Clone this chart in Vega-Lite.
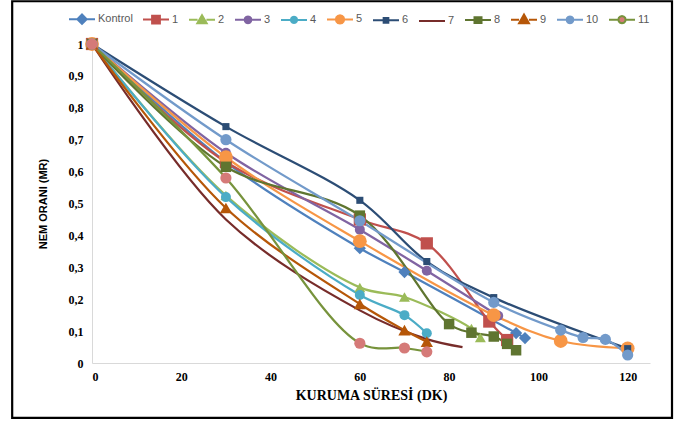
{
  "$schema": "https://vega.github.io/schema/vega-lite/v6.json",
  "width": 558,
  "height": 319,
  "autosize": {"type": "none"},
  "padding": {"left": 92, "top": 44, "right": 34, "bottom": 61},
  "background": "white",
  "config": {
    "view": {"stroke": null},
    "axis": {"grid": false, "ticks": false, "labelOverlap": false, "domainColor": "#D9D9D9", "domainWidth": 1, "labelFont": "Liberation Serif", "labelFontWeight": "bold", "labelFontSize": 12, "labelColor": "#000000"},
    "axisX": {"labelPadding": 8, "titleFont": "Liberation Serif", "titleFontSize": 14, "titleFontWeight": "bold", "titlePadding": 6, "titleColor": "#000000"},
    "axisY": {"labelPadding": 9, "titleFont": "Liberation Sans", "titleFontSize": 11, "titleFontWeight": "bold", "titlePadding": 20, "titleColor": "#000000"},
    "legend": {
      "orient": "none",
      "legendX": -24,
      "legendY": -39,
      "direction": "horizontal",
      "columns": 12,
      "title": null,
      "symbolSize": 676,
      "symbolStrokeWidth": 2,
      "symbolOpacity": 1,
      "labelFont": "Liberation Sans",
      "labelFontSize": 11,
      "labelColor": "#595959",
      "labelOffset": 2,
      "columnPadding": 6
    }
  },
  "data": {
    "values": [
      {"s": "Kontrol", "x": 0, "y": 1}, {"s": "Kontrol", "x": 30, "y": 0.63}, {"s": "Kontrol", "x": 60, "y": 0.36}, {"s": "Kontrol", "x": 70, "y": 0.285}, {"s": "Kontrol", "x": 95, "y": 0.094}, {"s": "Kontrol", "x": 97, "y": 0.078},
      {"s": "1", "x": 0, "y": 1}, {"s": "1", "x": 30, "y": 0.63}, {"s": "1", "x": 60, "y": 0.45}, {"s": "1", "x": 75, "y": 0.375}, {"s": "1", "x": 89, "y": 0.13}, {"s": "1", "x": 93, "y": 0.072},
      {"s": "2", "x": 0, "y": 1}, {"s": "2", "x": 30, "y": 0.525}, {"s": "2", "x": 60, "y": 0.237}, {"s": "2", "x": 70, "y": 0.207}, {"s": "2", "x": 85, "y": 0.108}, {"s": "2", "x": 87, "y": 0.08},
      {"s": "3", "x": 0, "y": 1}, {"s": "3", "x": 30, "y": 0.659}, {"s": "3", "x": 60, "y": 0.418}, {"s": "3", "x": 75, "y": 0.289}, {"s": "3", "x": 91, "y": 0.148},
      {"s": "4", "x": 0, "y": 1}, {"s": "4", "x": 30, "y": 0.52}, {"s": "4", "x": 60, "y": 0.213}, {"s": "4", "x": 70, "y": 0.15}, {"s": "4", "x": 75, "y": 0.093},
      {"s": "5", "x": 0, "y": 1}, {"s": "5", "x": 30, "y": 0.645}, {"s": "5", "x": 60, "y": 0.382}, {"s": "5", "x": 90, "y": 0.15}, {"s": "5", "x": 105, "y": 0.069}, {"s": "5", "x": 120, "y": 0.046},
      {"s": "6", "x": 0, "y": 1}, {"s": "6", "x": 30, "y": 0.741}, {"s": "6", "x": 60, "y": 0.51}, {"s": "6", "x": 75, "y": 0.318}, {"s": "6", "x": 90, "y": 0.205}, {"s": "6", "x": 120, "y": 0.045},
      {"s": "7", "x": 0, "y": 1}, {"s": "7", "x": 30, "y": 0.45}, {"s": "7", "x": 60, "y": 0.165}, {"s": "7", "x": 75, "y": 0.075}, {"s": "7", "x": 83, "y": 0.05},
      {"s": "8", "x": 0, "y": 1}, {"s": "8", "x": 30, "y": 0.615}, {"s": "8", "x": 60, "y": 0.462}, {"s": "8", "x": 80, "y": 0.122}, {"s": "8", "x": 85, "y": 0.095}, {"s": "8", "x": 90, "y": 0.083}, {"s": "8", "x": 93, "y": 0.06}, {"s": "8", "x": 95, "y": 0.04},
      {"s": "9", "x": 0, "y": 1}, {"s": "9", "x": 30, "y": 0.486}, {"s": "9", "x": 60, "y": 0.185}, {"s": "9", "x": 70, "y": 0.103}, {"s": "9", "x": 75, "y": 0.067},
      {"s": "10", "x": 0, "y": 1}, {"s": "10", "x": 30, "y": 0.7}, {"s": "10", "x": 60, "y": 0.446}, {"s": "10", "x": 90, "y": 0.19}, {"s": "10", "x": 105, "y": 0.103}, {"s": "10", "x": 110, "y": 0.08}, {"s": "10", "x": 115, "y": 0.074}, {"s": "10", "x": 120, "y": 0.025},
      {"s": "11", "x": 0, "y": 1}, {"s": "11", "x": 30, "y": 0.58}, {"s": "11", "x": 60, "y": 0.062}, {"s": "11", "x": 70, "y": 0.047}, {"s": "11", "x": 75, "y": 0.035}
    ]
  },
  "layer": [
    {
      "data": {"values": [{}]},
      "mark": {"type": "rect", "fill": null, "stroke": "#000000", "strokeWidth": 2.2},
      "encoding": {
        "x": {"datum": -17.88, "type": "quantitative", "scale": {"domain": [0, 125], "nice": false}, "title": "KURUMA SÜRESİ (DK)", "axis": {"values": [0, 20, 40, 60, 80, 100, 120]}},
        "x2": {"datum": 129.93},
        "y": {"datum": 1.134, "type": "quantitative", "scale": {"domain": [0, 1], "nice": false}, "title": "NEM ORANI (MR)", "axis": {"values": [0, 0.1, 0.2, 0.3, 0.4, 0.5, 0.6, 0.7, 0.8, 0.9, 1], "labelExpr": "replace(format(datum.value, '.1~f'), '.', ',')"}},
        "y2": {"datum": -0.172}
      }
    },
    {
      "mark": {"type": "line", "interpolate": "catmull-rom", "strokeWidth": 2.25},
      "encoding": {
        "x": {"field": "x", "type": "quantitative", "scale": {"domain": [0, 125], "nice": false}, "title": "KURUMA SÜRESİ (DK)", "axis": {"values": [0, 20, 40, 60, 80, 100, 120]}},
        "y": {"field": "y", "type": "quantitative", "scale": {"domain": [0, 1], "nice": false}, "title": "NEM ORANI (MR)", "axis": {"values": [0, 0.1, 0.2, 0.3, 0.4, 0.5, 0.6, 0.7, 0.8, 0.9, 1], "labelExpr": "replace(format(datum.value, '.1~f'), '.', ',')"}},
        "stroke": {
          "field": "s", "type": "nominal",
          "scale": {
            "domain": ["Kontrol", "1", "2", "3", "4", "5", "6", "7", "8", "9", "10", "11"],
            "range": ["#4F81BD", "#C0504D", "#9BBB59", "#8064A2", "#4BACC6", "#F79646", "#2C4D75", "#772C2A", "#5F7530", "#B65708", "#729ACA", "#77933C"]
          }
        }
      }
    },
    {
      "transform": [{"filter": "false"}],
      "mark": {"type": "point", "filled": true},
      "encoding": {
        "x": {"field": "x", "type": "quantitative", "scale": {"domain": [0, 125], "nice": false}, "title": "KURUMA SÜRESİ (DK)", "axis": {"values": [0, 20, 40, 60, 80, 100, 120]}},
        "y": {"field": "y", "type": "quantitative", "scale": {"domain": [0, 1], "nice": false}, "title": "NEM ORANI (MR)", "axis": {"values": [0, 0.1, 0.2, 0.3, 0.4, 0.5, 0.6, 0.7, 0.8, 0.9, 1], "labelExpr": "replace(format(datum.value, '.1~f'), '.', ',')"}},
        "shape": {
          "field": "s", "type": "nominal",
          "scale": {
            "type": "ordinal",
            "domain": ["Kontrol", "1", "2", "3", "4", "5", "6", "7", "8", "9", "10", "11"],
            "range": [
              "M-1,0H-0.36M0.36,0H1M0,-0.36L0.36,0L0,0.36L-0.36,0Z",
              "M-1,0H-0.3M0.3,0H1M-0.3,-0.3H0.3V0.3H-0.3Z",
              "M-1,0H-0.34M0.34,0H1M0,-0.36L0.36,0.26H-0.36Z",
              "M-1,0H-0.26M0.26,0H1M0.26,0L0.225,0.13L0.13,0.225L0,0.26L-0.13,0.225L-0.225,0.13L-0.26,0L-0.225,-0.13L-0.13,-0.225L0,-0.26L0.13,-0.225L0.225,-0.13Z",
              "M-1,0H-0.24M0.24,0H1M0.24,0L0.208,0.12L0.12,0.208L0,0.24L-0.12,0.208L-0.208,0.12L-0.24,0L-0.208,-0.12L-0.12,-0.208L0,-0.24L0.12,-0.208L0.208,-0.12Z",
              "M-1,0H-0.32M0.32,0H1M0.32,0L0.277,0.16L0.16,0.277L0,0.32L-0.16,0.277L-0.277,0.16L-0.32,0L-0.277,-0.16L-0.16,-0.277L0,-0.32L0.16,-0.277L0.277,-0.16Z",
              "M-1,0H-0.18M0.18,0H1M-0.18,-0.18H0.18V0.18H-0.18Z",
              "M-1,0H1",
              "M-1,0H-0.27M0.27,0H1M-0.27,-0.22H0.27V0.22H-0.27Z",
              "M-1,0H-0.38M0.38,0H1M0,-0.4L0.38,0.26H-0.38Z",
              "M-1,0H-0.26M0.26,0H1M0.26,0L0.225,0.13L0.13,0.225L0,0.26L-0.13,0.225L-0.225,0.13L-0.26,0L-0.225,-0.13L-0.13,-0.225L0,-0.26L0.13,-0.225L0.225,-0.13Z",
              "M-1,0H-0.28M0.28,0H1M0.28,0L0.242,0.14L0.14,0.242L0,0.28L-0.14,0.242L-0.242,0.14L-0.28,0L-0.242,-0.14L-0.14,-0.242L0,-0.28L0.14,-0.242L0.242,-0.14Z"
            ]
          }
        },
        "fill": {
          "field": "s", "type": "nominal",
          "scale": {
            "domain": ["Kontrol", "1", "2", "3", "4", "5", "6", "7", "8", "9", "10", "11"],
            "range": ["#4F81BD", "#C0504D", "#9BBB59", "#8064A2", "#4BACC6", "#F79646", "#2C4D75", "#772C2A", "#5F7530", "#B65708", "#729ACA", "#D57A78"]
          }
        }
      }
    },
    {
      "transform": [{"filter": "datum.s === 'Kontrol'"}],
      "mark": {"type": "point", "filled": true, "opacity": 1, "strokeWidth": 0, "shape": "diamond", "size": 150},
      "encoding": {"x": {"field": "x", "type": "quantitative", "scale": {"domain": [0, 125], "nice": false}, "title": "KURUMA SÜRESİ (DK)", "axis": {"values": [0, 20, 40, 60, 80, 100, 120]}}, "y": {"field": "y", "type": "quantitative", "scale": {"domain": [0, 1], "nice": false}, "title": "NEM ORANI (MR)", "axis": {"values": [0, 0.1, 0.2, 0.3, 0.4, 0.5, 0.6, 0.7, 0.8, 0.9, 1], "labelExpr": "replace(format(datum.value, '.1~f'), '.', ',')"}}, "fill": {"field": "s", "type": "nominal", "scale": {"domain": ["Kontrol", "1", "2", "3", "4", "5", "6", "7", "8", "9", "10", "11"], "range": ["#4F81BD", "#C0504D", "#9BBB59", "#8064A2", "#4BACC6", "#F79646", "#2C4D75", "#772C2A", "#5F7530", "#B65708", "#729ACA", "#D57A78"]}}}
    },
    {
      "transform": [{"filter": "datum.s === '1'"}],
      "mark": {"type": "point", "filled": true, "opacity": 1, "strokeWidth": 0, "shape": "square", "size": 150},
      "encoding": {"x": {"field": "x", "type": "quantitative", "scale": {"domain": [0, 125], "nice": false}, "title": "KURUMA SÜRESİ (DK)", "axis": {"values": [0, 20, 40, 60, 80, 100, 120]}}, "y": {"field": "y", "type": "quantitative", "scale": {"domain": [0, 1], "nice": false}, "title": "NEM ORANI (MR)", "axis": {"values": [0, 0.1, 0.2, 0.3, 0.4, 0.5, 0.6, 0.7, 0.8, 0.9, 1], "labelExpr": "replace(format(datum.value, '.1~f'), '.', ',')"}}, "fill": {"field": "s", "type": "nominal", "scale": {"domain": ["Kontrol", "1", "2", "3", "4", "5", "6", "7", "8", "9", "10", "11"], "range": ["#4F81BD", "#C0504D", "#9BBB59", "#8064A2", "#4BACC6", "#F79646", "#2C4D75", "#772C2A", "#5F7530", "#B65708", "#729ACA", "#D57A78"]}}}
    },
    {
      "transform": [{"filter": "datum.s === '2'"}],
      "mark": {"type": "point", "filled": true, "opacity": 1, "strokeWidth": 0, "shape": "triangle-up", "size": 120},
      "encoding": {"x": {"field": "x", "type": "quantitative", "scale": {"domain": [0, 125], "nice": false}, "title": "KURUMA SÜRESİ (DK)", "axis": {"values": [0, 20, 40, 60, 80, 100, 120]}}, "y": {"field": "y", "type": "quantitative", "scale": {"domain": [0, 1], "nice": false}, "title": "NEM ORANI (MR)", "axis": {"values": [0, 0.1, 0.2, 0.3, 0.4, 0.5, 0.6, 0.7, 0.8, 0.9, 1], "labelExpr": "replace(format(datum.value, '.1~f'), '.', ',')"}}, "fill": {"field": "s", "type": "nominal", "scale": {"domain": ["Kontrol", "1", "2", "3", "4", "5", "6", "7", "8", "9", "10", "11"], "range": ["#4F81BD", "#C0504D", "#9BBB59", "#8064A2", "#4BACC6", "#F79646", "#2C4D75", "#772C2A", "#5F7530", "#B65708", "#729ACA", "#D57A78"]}}}
    },
    {
      "transform": [{"filter": "datum.s === '3' || datum.s === '4'"}],
      "mark": {"type": "point", "filled": true, "opacity": 1, "strokeWidth": 0, "shape": "circle", "size": 100},
      "encoding": {"x": {"field": "x", "type": "quantitative", "scale": {"domain": [0, 125], "nice": false}, "title": "KURUMA SÜRESİ (DK)", "axis": {"values": [0, 20, 40, 60, 80, 100, 120]}}, "y": {"field": "y", "type": "quantitative", "scale": {"domain": [0, 1], "nice": false}, "title": "NEM ORANI (MR)", "axis": {"values": [0, 0.1, 0.2, 0.3, 0.4, 0.5, 0.6, 0.7, 0.8, 0.9, 1], "labelExpr": "replace(format(datum.value, '.1~f'), '.', ',')"}}, "fill": {"field": "s", "type": "nominal", "scale": {"domain": ["Kontrol", "1", "2", "3", "4", "5", "6", "7", "8", "9", "10", "11"], "range": ["#4F81BD", "#C0504D", "#9BBB59", "#8064A2", "#4BACC6", "#F79646", "#2C4D75", "#772C2A", "#5F7530", "#B65708", "#729ACA", "#D57A78"]}}}
    },
    {
      "transform": [{"filter": "datum.s === '5'"}],
      "mark": {"type": "point", "filled": true, "opacity": 1, "strokeWidth": 0, "shape": "circle", "size": 190},
      "encoding": {"x": {"field": "x", "type": "quantitative", "scale": {"domain": [0, 125], "nice": false}, "title": "KURUMA SÜRESİ (DK)", "axis": {"values": [0, 20, 40, 60, 80, 100, 120]}}, "y": {"field": "y", "type": "quantitative", "scale": {"domain": [0, 1], "nice": false}, "title": "NEM ORANI (MR)", "axis": {"values": [0, 0.1, 0.2, 0.3, 0.4, 0.5, 0.6, 0.7, 0.8, 0.9, 1], "labelExpr": "replace(format(datum.value, '.1~f'), '.', ',')"}}, "fill": {"field": "s", "type": "nominal", "scale": {"domain": ["Kontrol", "1", "2", "3", "4", "5", "6", "7", "8", "9", "10", "11"], "range": ["#4F81BD", "#C0504D", "#9BBB59", "#8064A2", "#4BACC6", "#F79646", "#2C4D75", "#772C2A", "#5F7530", "#B65708", "#729ACA", "#D57A78"]}}}
    },
    {
      "transform": [{"filter": "datum.s === '6'"}],
      "mark": {"type": "point", "filled": true, "opacity": 1, "strokeWidth": 0, "shape": "square", "size": 50},
      "encoding": {"x": {"field": "x", "type": "quantitative", "scale": {"domain": [0, 125], "nice": false}, "title": "KURUMA SÜRESİ (DK)", "axis": {"values": [0, 20, 40, 60, 80, 100, 120]}}, "y": {"field": "y", "type": "quantitative", "scale": {"domain": [0, 1], "nice": false}, "title": "NEM ORANI (MR)", "axis": {"values": [0, 0.1, 0.2, 0.3, 0.4, 0.5, 0.6, 0.7, 0.8, 0.9, 1], "labelExpr": "replace(format(datum.value, '.1~f'), '.', ',')"}}, "fill": {"field": "s", "type": "nominal", "scale": {"domain": ["Kontrol", "1", "2", "3", "4", "5", "6", "7", "8", "9", "10", "11"], "range": ["#4F81BD", "#C0504D", "#9BBB59", "#8064A2", "#4BACC6", "#F79646", "#2C4D75", "#772C2A", "#5F7530", "#B65708", "#729ACA", "#D57A78"]}}}
    },
    {
      "transform": [{"filter": "datum.s === '8'"}],
      "mark": {"type": "point", "filled": true, "opacity": 1, "strokeWidth": 0, "shape": "square", "size": 110},
      "encoding": {"x": {"field": "x", "type": "quantitative", "scale": {"domain": [0, 125], "nice": false}, "title": "KURUMA SÜRESİ (DK)", "axis": {"values": [0, 20, 40, 60, 80, 100, 120]}}, "y": {"field": "y", "type": "quantitative", "scale": {"domain": [0, 1], "nice": false}, "title": "NEM ORANI (MR)", "axis": {"values": [0, 0.1, 0.2, 0.3, 0.4, 0.5, 0.6, 0.7, 0.8, 0.9, 1], "labelExpr": "replace(format(datum.value, '.1~f'), '.', ',')"}}, "fill": {"field": "s", "type": "nominal", "scale": {"domain": ["Kontrol", "1", "2", "3", "4", "5", "6", "7", "8", "9", "10", "11"], "range": ["#4F81BD", "#C0504D", "#9BBB59", "#8064A2", "#4BACC6", "#F79646", "#2C4D75", "#772C2A", "#5F7530", "#B65708", "#729ACA", "#D57A78"]}}}
    },
    {
      "transform": [{"filter": "datum.s === '9'"}],
      "mark": {"type": "point", "filled": true, "opacity": 1, "strokeWidth": 0, "shape": "triangle-up", "size": 150},
      "encoding": {"x": {"field": "x", "type": "quantitative", "scale": {"domain": [0, 125], "nice": false}, "title": "KURUMA SÜRESİ (DK)", "axis": {"values": [0, 20, 40, 60, 80, 100, 120]}}, "y": {"field": "y", "type": "quantitative", "scale": {"domain": [0, 1], "nice": false}, "title": "NEM ORANI (MR)", "axis": {"values": [0, 0.1, 0.2, 0.3, 0.4, 0.5, 0.6, 0.7, 0.8, 0.9, 1], "labelExpr": "replace(format(datum.value, '.1~f'), '.', ',')"}}, "fill": {"field": "s", "type": "nominal", "scale": {"domain": ["Kontrol", "1", "2", "3", "4", "5", "6", "7", "8", "9", "10", "11"], "range": ["#4F81BD", "#C0504D", "#9BBB59", "#8064A2", "#4BACC6", "#F79646", "#2C4D75", "#772C2A", "#5F7530", "#B65708", "#729ACA", "#D57A78"]}}}
    },
    {
      "transform": [{"filter": "datum.s === '10' || datum.s === '11'"}],
      "mark": {"type": "point", "filled": true, "opacity": 1, "strokeWidth": 0, "shape": "circle", "size": 125},
      "encoding": {"x": {"field": "x", "type": "quantitative", "scale": {"domain": [0, 125], "nice": false}, "title": "KURUMA SÜRESİ (DK)", "axis": {"values": [0, 20, 40, 60, 80, 100, 120]}}, "y": {"field": "y", "type": "quantitative", "scale": {"domain": [0, 1], "nice": false}, "title": "NEM ORANI (MR)", "axis": {"values": [0, 0.1, 0.2, 0.3, 0.4, 0.5, 0.6, 0.7, 0.8, 0.9, 1], "labelExpr": "replace(format(datum.value, '.1~f'), '.', ',')"}}, "fill": {"field": "s", "type": "nominal", "scale": {"domain": ["Kontrol", "1", "2", "3", "4", "5", "6", "7", "8", "9", "10", "11"], "range": ["#4F81BD", "#C0504D", "#9BBB59", "#8064A2", "#4BACC6", "#F79646", "#2C4D75", "#772C2A", "#5F7530", "#B65708", "#729ACA", "#D57A78"]}}}
    }
  ]
}
